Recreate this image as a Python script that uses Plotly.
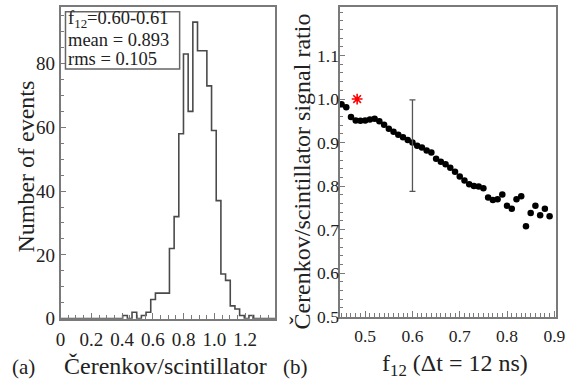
import plotly.graph_objects as go

# ---------------- data ----------------
# left panel: histogram of Cerenkov/scintillator ratio for f12 = 0.60-0.61
hist_start = 0.4034
bin_w = 0.0304
hist_counts = [1, 0, 2, 0, 1, 2, 6, 8, 8, 8, 22, 32, 58, 83, 65, 93, 84, 84,
               73, 59, 37, 14, 12, 4, 3, 1, 0, 1]
hist_xmax = 1.4

# right panel: signal ratio vs f12
f12 = [round(0.45 + 0.01 * k, 2) for k in range(45)]
ratio = [0.988, 0.981, 0.959, 0.951, 0.950, 0.951, 0.953, 0.955, 0.949, 0.941,
         0.932, 0.925, 0.918, 0.912, 0.906, 0.900, 0.893, 0.889, 0.882, 0.877,
         0.863, 0.856, 0.850, 0.842, 0.833, 0.822, 0.813, 0.804, 0.800, 0.799,
         0.795, 0.774, 0.768, 0.770, 0.781, 0.755, 0.748, 0.770, 0.777, 0.708,
         0.738, 0.755, 0.733, 0.748, 0.731]
err_x = [0.60]
err_y = [0.893]
err_rms = [0.105]
star_x = [0.483]
star_y = [1.0]

left_xticks = [0, 0.2, 0.4, 0.6, 0.8, 1.0, 1.2]
left_xtext = ["0", "0.2", "0.4", "0.6", "0.8", "1.0", "1.2"]
left_yticks = [0, 20, 40, 60, 80]
right_xticks = [0.5, 0.6, 0.7, 0.8, 0.9]
right_yticks = [0.5, 0.6, 0.7, 0.8, 0.9, 1.0, 1.1]

W, H = 574, 385
FONT = "Liberation Serif"
FRAME = "#7a7a7a"
TXT = "#222222"


def px(x):
    return x / W


def py(y):
    return 1 - y / H


# build histogram step outline
hx = [0.0]
hy = [0]
for i, c in enumerate(hist_counts):
    hx.append(hist_start + i * bin_w)
    hy.append(c)
hx.append(hist_start + len(hist_counts) * bin_w)
hy.append(0)
hx.append(hist_xmax)
hy.append(0)

fig = go.Figure()
fig.add_trace(go.Scatter(x=hx, y=hy, mode="lines", line=dict(shape="hv", color="#4a4a4a", width=1.6),
                         xaxis="x", yaxis="y", showlegend=False, hoverinfo="skip"))

fig.add_trace(go.Scatter(x=f12, y=ratio, mode="markers",
                         marker=dict(color="black", size=6.5, line=dict(width=0)),
                         xaxis="x2", yaxis="y2", showlegend=False))
fig.add_trace(go.Scatter(x=err_x, y=err_y, mode="markers",
                         marker=dict(color="rgba(0,0,0,0)", size=1),
                         error_y=dict(type="data", array=err_rms, color="#555555", thickness=1.3, width=3),
                         xaxis="x2", yaxis="y2", showlegend=False))
fig.add_trace(go.Scatter(x=star_x, y=star_y, mode="markers",
                         marker=dict(symbol="asterisk-open", color="red", size=9, line=dict(color="red", width=1.6)),
                         xaxis="x2", yaxis="y2", showlegend=False))

axis_common = dict(showline=True, linecolor=FRAME, linewidth=1.5, mirror=True, showgrid=False, zeroline=False,
                   ticks="inside", tickcolor=FRAME, ticklen=6, tickwidth=1, ticklabeloverflow="allow")
left_font = dict(family=FONT, size=19, color=TXT)
right_font = dict(family=FONT, size=17.5, color=TXT)

fig.update_layout(
    width=W, height=H, margin=dict(l=0, r=0, t=0, b=0),
    paper_bgcolor="white", plot_bgcolor="white",
    xaxis=dict(domain=[px(57), px(277)], range=[0, 1.395], tickvals=left_xticks, ticktext=left_xtext,
               minor=dict(ticks="inside", ticklen=4, dtick=0.05, tick0=0, tickcolor=FRAME, showgrid=False),
               anchor="y", ticklabelstandoff=3, tickfont=left_font, **axis_common),
    yaxis=dict(domain=[py(328), py(7)], range=[0, 97.8], tickvals=left_yticks,
               minor=dict(ticks="inside", ticklen=4, dtick=5, tick0=0, tickcolor=FRAME, showgrid=False),
               anchor="x", tickfont=left_font, **axis_common),
    xaxis2=dict(domain=[px(343), px(565)], range=[0.446, 0.904], tickvals=right_xticks, tickformat=".1f",
                minor=dict(ticks="inside", ticklen=4, dtick=0.01, tick0=0.5, tickcolor=FRAME, showgrid=False),
                anchor="y2", ticklabelstandoff=3, tickfont=right_font, **axis_common),
    yaxis2=dict(domain=[py(326), py(7)], range=[0.5, 1.212], tickvals=right_yticks, showticklabels=False,
                minor=dict(ticks="inside", ticklen=4, dtick=0.02, tick0=0.5, tickcolor=FRAME, showgrid=False),
                anchor="x2", **axis_common),
)

# right y tick labels drawn flush against the axis (as in the reference)
for v in right_yticks:
    fig.add_annotation(text=f"{v:.1f}", xref="paper", yref="y2", x=px(343), y=v, xanchor="right",
                       yanchor="middle", showarrow=False, borderpad=0, font=right_font)

# stats box in left panel
fig.add_shape(type="rect", xref="paper", yref="paper", x0=px(62), x1=px(179), y0=py(71), y1=py(12),
              line=dict(color="#666666", width=1.5), fillcolor="white")
box_lines = ["f<sub>12</sub>=0.60-0.61", "mean = 0.893", "rms = 0.105"]
box_y = [20.5, 41.5, 61]
for t, yy in zip(box_lines, box_y):
    fig.add_annotation(text=t, xref="paper", yref="paper", x=px(64), y=py(yy), xanchor="left", yanchor="middle",
                       showarrow=False, borderpad=0, font=dict(family=FONT, size=18.5, color=TXT))

# axis titles and panel labels
ann = [
    ("Number of events", 22, 171, -90, 24),
    ("Čerenkov/scintillator signal ratio", 304, 177, -90, 24),
    ("Čerenkov/scintillator", 165, 377, 0, 24),
    ("f<sub>12</sub> (Δt = 12 ns)", 461, 376, 0, 24),
    ("(a)", 19, 378, 0, 21),
    ("(b)", 298, 378, 0, 21),
]
for t, x, y, ang, sz in ann:
    fig.add_annotation(text=t, xref="paper", yref="paper", x=px(x), y=py(y), xanchor="center", yanchor="middle",
                       textangle=ang, showarrow=False, borderpad=0, font=dict(family=FONT, size=sz, color=TXT))

fig.write_html("out.html")
